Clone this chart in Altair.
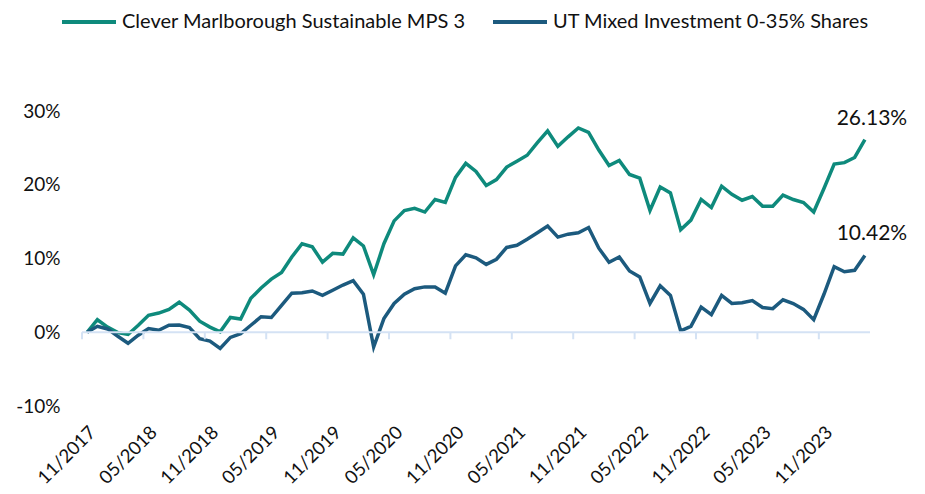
import altair as alt
import pandas as pd

months = [d.strftime("%m/%Y") for d in pd.date_range("2017-11-01", "2024-03-01", freq="MS")]

fund = [0.0, 1.7, 0.7, -0.05, -0.3, 0.95, 2.3, 2.6, 3.1, 4.07, 3.0, 1.5, 0.7, 0.05,
        2.0, 1.8, 4.6, 6.0, 7.2, 8.1, 10.2, 12.0, 11.6, 9.5, 10.7, 10.6, 12.8, 11.7,
        7.8, 12.0, 15.1, 16.5, 16.8, 16.3, 18.0, 17.6, 21.0, 22.9, 21.8, 19.9, 20.7,
        22.4, 23.2, 24.0, 25.7, 27.3, 25.2, 26.5, 27.7, 27.1, 24.7, 22.6, 23.3, 21.4,
        20.9, 16.5, 19.7, 18.9, 13.9, 15.2, 18.0, 16.9, 19.8, 18.7, 17.9, 18.4, 17.1,
        17.1, 18.6, 18.0, 17.6, 16.3, 19.5, 22.8, 23.0, 23.7, 26.13]

sector = [0.0, 0.8, 0.45, -0.55, -1.5, -0.4, 0.5, 0.27, 0.95, 0.97, 0.63, -0.86, -1.2,
          -2.2, -0.7, -0.2, 0.95, 2.1, 2.0, 3.66, 5.3, 5.35, 5.6, 5.0, 5.7, 6.4, 7.0,
          5.15, -2.0, 1.86, 3.9, 5.15, 5.9, 6.15, 6.15, 5.3, 9.0, 10.5, 10.1, 9.2, 9.9,
          11.5, 11.8, 12.6, 13.5, 14.4, 12.9, 13.3, 13.5, 14.2, 11.4, 9.5, 10.2, 8.3,
          7.5, 3.9, 6.3, 5.0, 0.2, 0.8, 3.4, 2.4, 5.0, 3.9, 4.0, 4.3, 3.35, 3.2, 4.4,
          3.9, 3.1, 1.7, 5.15, 8.9, 8.2, 8.4, 10.42]

series_names = ["Clever Marlborough Sustainable MPS 3", "UT Mixed Investment 0-35% Shares"]
colors = ["#0E8A7C", "#1C5A7E"]
tick_labels = ["11/2017", "05/2018", "11/2018", "05/2019", "11/2019", "05/2020", "11/2020",
               "05/2021", "11/2021", "05/2022", "11/2022", "05/2023", "11/2023"]
y_ticks = [-10, 0, 10, 20, 30]

rows = []
for i, m in enumerate(months):
    rows.append({"idx": i, "month": m, "series": series_names[0], "value": fund[i]})
    rows.append({"idx": i, "month": m, "series": series_names[1], "value": sector[i]})
df = pd.DataFrame(rows)

last = df[df["idx"] == len(months) - 1].copy()
last["label"] = last["value"].map(lambda v: f"{v:.2f}%")

tick_pos = [-0.5 + 6 * k for k in range(len(tick_labels))]
ticks_df = pd.DataFrame({"pos": tick_pos})

FONT = "Lato"
W, H = 788, 295
AXIS_COL = "#D4E2F4"
label_arr = "[" + ",".join(f"'{t}'" for t in tick_labels) + "]"

xscale = alt.Scale(domain=[-0.5, len(months) - 0.5], nice=False, zero=False)
yscale = alt.Scale(domain=[-10, 30], nice=False)

x_axis = alt.Axis(values=tick_pos, labelExpr=f"{label_arr}[round((datum.value+0.5)/6)]",
                  labelAngle=-45, labelAlign="right", labelBaseline="middle",
                  domain=False, ticks=False, grid=False, labelPadding=23, labelOffset=10,
                  labelFontSize=18.5, labelFont=FONT, labelColor="#111111",
                  labelOverlap=False, labelBound=False, labelFlush=False, title=None)
y_axis = alt.Axis(values=y_ticks, labelExpr="datum.value + '%'",
                  domain=False, ticks=False, grid=False, labelPadding=22,
                  labelFontSize=19, labelFont=FONT, labelColor="#111111", title=None)

x_enc = alt.X("idx:Q", scale=xscale, axis=x_axis)
y_enc = alt.Y("value:Q", scale=yscale, axis=y_axis)

color_enc = alt.Color("series:N", scale=alt.Scale(domain=series_names, range=colors),
                      legend=alt.Legend(orient="none", legendX=-22, legendY=-118, direction="horizontal",
                                        title=None, symbolType="stroke", symbolSize=2916,
                                        symbolStrokeWidth=4, labelFontSize=20, labelFont=FONT,
                                        labelColor="#111111", columnPadding=19, labelLimit=500,
                                        labelOffset=4))

lines = alt.Chart(df).mark_line(strokeWidth=3.5, clip=False).encode(
    x=x_enc, y=y_enc, color=color_enc, order="idx:Q")

axis_line = alt.Chart(pd.DataFrame({"a": [0]})).mark_rule(color=AXIS_COL, strokeWidth=2).encode(
    x=alt.datum(-0.5, scale=xscale, axis=x_axis), x2=alt.datum(len(months) - 0.5),
    y=alt.datum(0, scale=yscale, axis=y_axis))
axis_ticks = alt.Chart(ticks_df).mark_rule(color=AXIS_COL, strokeWidth=2).encode(
    x=alt.X("pos:Q", scale=xscale, axis=x_axis),
    y=alt.datum(0, scale=yscale, axis=y_axis), y2=alt.datum(-0.95))

labels = alt.Chart(last).mark_text(align="center", baseline="bottom", dx=7, dy=-11,
                                   fontSize=21, font=FONT, color="#111111").encode(
    x=x_enc, y=y_enc, text="label:N")

chart = alt.layer(lines, axis_line, axis_ticks, labels).properties(
    width=W, height=H, background="white",
    autosize=alt.AutoSizeParams(type="none"),
    padding={"left": 74, "top": 103, "right": 47, "bottom": 80}
).configure_view(stroke=None).configure_axis(domain=False, ticks=False, grid=False)

chart.save("out.html", embed_options={"renderer": "svg", "actions": False})
